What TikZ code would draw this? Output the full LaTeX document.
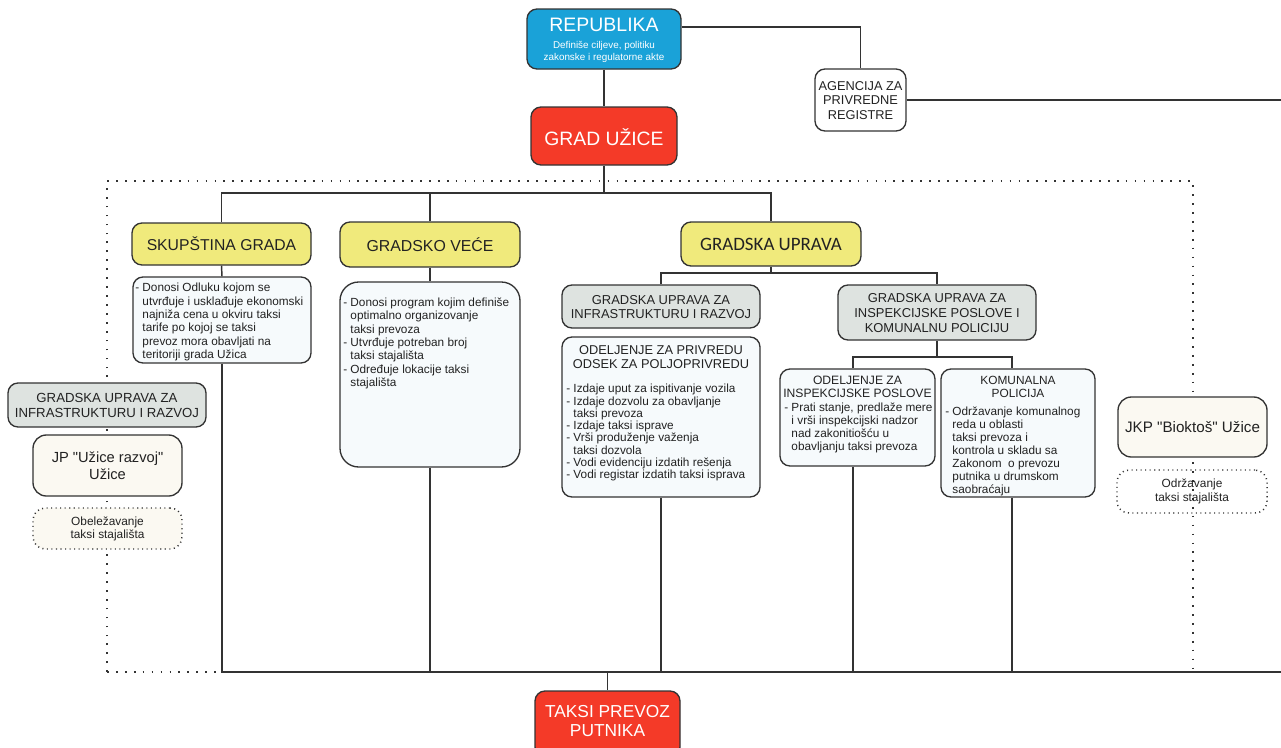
\documentclass[tikz,border=0pt]{standalone}
\usepackage{fontspec}
\setmainfont{Liberation Sans}
\newfontfamily\calfont{Carlito}
\usetikzlibrary{fit}
\definecolor{linec}{HTML}{333333}
\definecolor{repblue}{HTML}{1AA2D8}
\definecolor{gradred}{HTML}{F43A28}
\definecolor{yel}{HTML}{F0EA7C}
\definecolor{grayb}{HTML}{DEE3E0}
\definecolor{lightb}{HTML}{F6FAFC}
\definecolor{cream}{HTML}{FBF9F2}
\definecolor{txt}{HTML}{222222}
\newcommand{\lind}{\phantom{- }}
\newcommand{\fsz}[2]{\fontsize{#1}{#2}\selectfont}
\newcommand{\sq}{\XeTeXglyph\XeTeXcharglyph"22\relax}
\begin{document}
\begin{tikzpicture}[x=0.75pt,y=-0.75pt,
  box/.style={draw=linec, line width=1pt, rounded corners=7.5pt, inner sep=0pt},
  conn/.style={draw=linec, line width=1.1pt},
  dotline/.style={draw=linec, line width=1.6pt, dash pattern=on 1.3pt off 5.4pt},
  dotbox/.style={draw=linec, line width=1.1pt, dash pattern=on 0.8pt off 2.6pt, rounded corners=9pt, inner sep=0pt},
  ttl/.style={text=txt, align=center, inner sep=0pt},
  lst/.style={text=txt, align=left, inner sep=0pt, anchor=north west, font=\fsz{8.85}{10}},
]
\useasboundingbox (0,0) rectangle (1281,747);

% dotted frame (behind)
\coordinate (fTL) at (107,181);
\coordinate (fTR) at (1193,181);
\coordinate (fBL) at (107,672);
\coordinate (fBR) at (1193,672);
\draw[dotline] (fBL) -- (fTL) -- (fTR) -- (fBR);

% top
\node[box, fill=repblue, fit={(527,9)(681,69)}] (rep) {};
\node[ttl, text=white, font=\fsz{14.6}{16}] (repT) at (604,25) {REPUBLIKA};
\node[ttl, text=white, font=\fsz{7.4}{9}] (repS) at (604,51.5) {Definiše ciljeve, politiku\\zakonske i regulatorne akte};

\node[box, fill=white, fit={(815,69)(906,131)}] (ag) {};
\node[ttl, font=\fsz{9.6}{10.6}] (agT) at (860.5,100.5) {AGENCIJA ZA\\PRIVREDNE\\REGISTRE};

\node[box, fill=gradred, fit={(531,107)(677,165)}] (grad) {};
\node[ttl, text=white, font=\fsz{14.5}{16}] (gradT) at (604,137) {GRAD UŽICE};

% second level
\node[box, fill=yel, fit={(132,223)(311,265)}] (skup) {};
\node[ttl, font=\fsz{11.8}{13}] (skupT) at (221.5,244) {SKUPŠTINA GRADA};
\node[box, fill=yel, fit={(340,222)(520,267)}] (vece) {};
\node[ttl, font=\fsz{11.9}{13}] (veceT) at (430,245) {GRADSKO VEĆE};
\node[box, fill=yel, fit={(681,222)(861,266)}] (gu) {};
\node[ttl, font=\calfont\fsz{14.2}{15}] (guT) at (771,244.5) {GRADSKA UPRAVA};

\node[box, fill=lightb, fit={(133,277)(311,363)}] (skupD) {};
\node[lst] (skupDT) at (135,283) {- Donosi Odluku kojom se\\\lind utvrđuje i usklađuje ekonomski\\\lind najniža cena u okviru taksi\\\lind tarife po kojoj se taksi\\\lind prevoz mora obavljati na\\\lind teritoriji grada Užica};

\node[box, fill=lightb, rounded corners=14pt, fit={(340,282)(520,467)}] (vD) {};
\node[lst] (vDT) at (343,297.5) {- Donosi program kojim definiše\\\lind optimalno organizovanje\\\lind taksi prevoza\\- Utvrđuje potreban broj\\\lind taksi stajališta\\- Određuje lokacije taksi\\\lind stajališta};

% gradska uprava branches
\node[box, fill=grayb, fit={(562,285)(760,328)}] (guI) {};
\node[ttl, font=\fsz{9.7}{10.8}] (guIT) at (661,307) {GRADSKA UPRAVA ZA\\INFRASTRUKTURU I RAZVOJ};
\node[box, fill=lightb, fit={(562,337)(760,497)}] (odP) {};
\node[ttl, font=\fsz{9.6}{10.5}] (odPT) at (661,357.5) {ODELJENJE ZA PRIVREDU\\ODSEK ZA POLJOPRIVREDU};
\node[lst, font=\fsz{8.85}{9.2}] (odPL) at (566,384) {- Izdaje uput za ispitivanje vozila\\- Izdaje dozvolu za obavljanje\\\lind taksi prevoza\\- Izdaje taksi isprave\\- Vrši produženje važenja\\\lind taksi dozvola\\- Vodi evidenciju izdatih rešenja\\- Vodi registar izdatih taksi isprava};

\node[box, fill=grayb, fit={(838,285)(1036,340)}] (guP) {};
\node[ttl, font=\fsz{9.7}{11}] (guPT) at (937,313) {GRADSKA UPRAVA ZA\\INSPEKCIJSKE POSLOVE I\\KOMUNALNU POLICIJU};

\node[box, fill=lightb, fit={(780,369)(935,466)}] (odI) {};
\node[ttl, font=\fsz{9.1}{9.9}] (odIT) at (857.5,387) {ODELJENJE ZA\\INSPEKCIJSKE POSLOVE};
\node[lst, font=\fsz{8.85}{9.75}] (odIL) at (784,402.5) {- Prati stanje, predlaže mere\\\lind i vrši inspekcijski nadzor\\\lind nad zakonitiošću u\\\lind obavljanju taksi prevoza};

\node[box, fill=lightb, fit={(941,369)(1095,497)}] (komP) {};
\node[ttl, font=\fsz{8.9}{9.8}] (komT) at (1018,387) {KOMUNALNA\\POLICIJA};
\node[lst, font=\fsz{8.85}{9.75}] (komL) at (945,406.5) {- Održavanje komunalnog\\\lind reda u oblasti\\\lind taksi prevoza i\\\lind kontrola u skladu sa\\\lind Zakonom\ \ o prevozu\\\lind putnika u drumskom\\\lind saobraćaju};

% left column
\node[box, fill=grayb, fit={(8,383)(206,427)}] (guL) {};
\node[ttl, font=\fsz{9.9}{11.2}] (guLT) at (107,405.5) {GRADSKA UPRAVA ZA\\INFRASTRUKTURU I RAZVOJ};
\node[box, fill=cream, rounded corners=10pt, fit={(33,435)(182,496)}] (jp) {};
\node[ttl, font=\fsz{11}{12.75}] (jpT) at (107.5,466) {JP \sq Užice razvoj\sq\\Užice};
\node[dotbox, fill=cream, fit={(33,508)(182,549)}] (obe) {};
\node[ttl, font=\fsz{8.9}{10.3}] (obeT) at (107.5,529) {Obeležavanje\\taksi stajališta};

% right column
\node[box, fill=cream, rounded corners=10pt, fit={(1118,397)(1267,457)}] (jkp) {};
\node[ttl, font=\fsz{11.4}{13}] (jkpT) at (1192.5,427) {JKP \sq Bioktoš\sq\ Užice};
\node[dotbox, fit={(1117,470)(1267,513)}] (odr) {};
\node[ttl, font=\fsz{8.9}{10}] (odrT) at (1192,491.5) {Održavanje\\taksi stajališta};

% bottom
\node[box, fill=gradred, fit={(535,691)(680,757)}] (taksi) {};
\node[ttl, text=white, font=\fsz{13}{14.25}] (taksiT) at (607.5,721.5) {TAKSI PREVOZ\\PUTNIKA};

% connectors
\draw[conn] ([yshift=9pt]rep.east) -| (ag.north);
\coordinate (edgeA) at (1281,100);
\draw[conn] (ag.east) -- (edgeA);
\draw[conn] (rep.south) -- (grad.north);
\coordinate (busA) at (604,193);
\draw[conn] (grad.south) -- (busA);
\draw[conn] (skup.north) |- (busA) -| (gu.north);
\draw[conn] (vece.north) -- (vece.north |- busA);
\draw[conn] (skup.south) -- (skupD.north);
\draw[conn] (vece.south) -- (vD.north);
\coordinate (busB) at (771,273);
\draw[conn] (gu.south) -- (busB);
\draw[conn] (guI.north) |- (busB) -| (guP.north);
\coordinate (busC) at (937,357);
\draw[conn] (guP.south) -- (busC);
\draw[conn] ([xshift=-3.4pt]odI.north) |- (busC) -| ([xshift=-4.5pt]komP.north);

\coordinate (busD) at (607.5,672);
\coordinate (edgeB) at (1281,672);
\draw[dotline] (fBL) -- (skupD.south |- fBL);
\draw[conn] (skupD.south) |- (edgeB);
\draw[conn] (vD.south) -- (vD.south |- busD);
\draw[conn] (odP.south) -- (odP.south |- busD);
\draw[conn] ([xshift=-3.4pt]odI.south) -- ([xshift=-3.4pt]odI.south |- busD);
\draw[conn] ([xshift=-4.5pt]komP.south) -- ([xshift=-4.5pt]komP.south |- busD);
\draw[conn] (busD) -- (taksi.north);
\end{tikzpicture}
\end{document}
